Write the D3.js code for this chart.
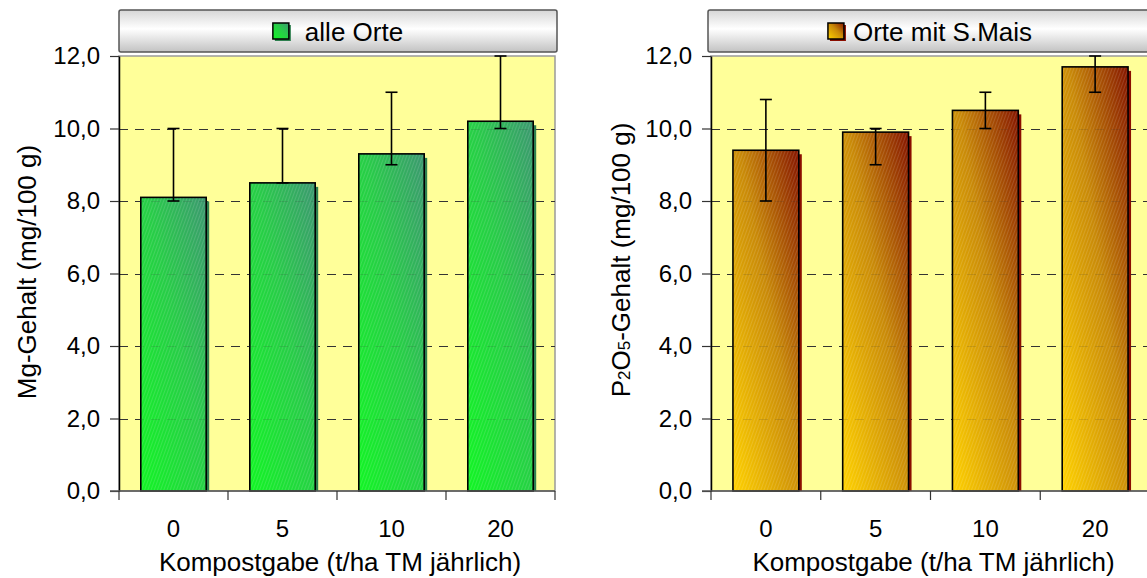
<!DOCTYPE html>
<html>
<head>
<meta charset="utf-8">
<script src="https://cdn.jsdelivr.net/npm/d3@7"></script>
<style>
  body { margin: 0; background: #fff; }
  svg { display: block; font-family: "Liberation Sans", Arial, sans-serif; }
</style>
</head>
<body>
<script>
const width = 1147;
const height = 578;

// data
const categories = ["0", "5", "10", "20"];
const yTicks = [0, 2, 4, 6, 8, 10, 12];

const mgValues = [8.1, 8.5, 9.3, 10.2];
const mgLow = [8.0, 8.5, 9.0, 10.0];
const mgHigh = [10.0, 10.0, 11.0, 12.0];

const pValues = [9.4, 9.9, 10.5, 11.7];
const pLow = [8.0, 9.0, 10.0, 11.0];
const pHigh = [10.8, 10.0, 11.0, 12.0];

const plotTop = 56, plotBottom = 491;

const svg = d3.select("body")
  .append("svg")
  .attr("width", width)
  .attr("height", height);

const defs = svg.append("defs");

// legend box gradient
const boxGrad = defs.append("linearGradient")
  .attr("id", "boxGrad").attr("x1", 0).attr("y1", 0).attr("x2", 0).attr("y2", 1);
boxGrad.append("stop").attr("offset", "0%").attr("stop-color", "#d6d6d6");
boxGrad.append("stop").attr("offset", "45%").attr("stop-color", "#ffffff");
boxGrad.append("stop").attr("offset", "100%").attr("stop-color", "#c2c2c2");

function barGradient(id, c0, c1, c2) {
  const g = defs.append("linearGradient")
    .attr("id", id).attr("x1", 0).attr("y1", 1).attr("x2", 1).attr("y2", 0);
  g.append("stop").attr("offset", "0%").attr("stop-color", c0);
  g.append("stop").attr("offset", "55%").attr("stop-color", c1);
  g.append("stop").attr("offset", "100%").attr("stop-color", c2);
}
barGradient("greenGrad", "#12f524", "#28cc48", "#3c9870");
barGradient("goldGrad", "#ffd200", "#c98a08", "#861600");

// fine diagonal hatching
const hatch = defs.append("pattern")
  .attr("id", "hatch")
  .attr("width", 3).attr("height", 3)
  .attr("patternUnits", "userSpaceOnUse")
  .attr("patternTransform", "rotate(20)");
hatch.append("rect").attr("width", 1).attr("height", 3)
  .attr("fill", "#ffffff").attr("opacity", 0.13);

const fmt = d => d3.format(".1f")(d).replace(".", ",");

function drawPanel(cfg) {
  const x = d3.scaleBand()
    .domain(categories)
    .range([cfg.left, cfg.right])
    .paddingInner(0.4)
    .paddingOuter(0.2);
  const xb = d3.scaleBand()
    .domain(categories)
    .range([cfg.left, cfg.right])
    .padding(0);
  const y = d3.scaleLinear().domain([0, 12]).range([plotBottom, plotTop]);

  const data = categories.map((c, i) => ({
    cat: c, value: cfg.values[i], low: cfg.low[i], high: cfg.high[i]
  }));

  const g = svg.append("g");

  // plot background
  g.append("rect")
    .attr("x", cfg.left).attr("y", plotTop)
    .attr("width", cfg.right - cfg.left).attr("height", plotBottom - plotTop)
    .attr("fill", "#ffff99")
    .attr("stroke", "#9a9a9a").attr("stroke-width", 1.5);

  // gridlines
  const grid = g.append("g");
  grid.selectAll("line")
    .data(yTicks.filter(d => d > 0 && d < 12))
    .join("line")
    .attr("x1", cfg.left).attr("x2", cfg.right)
    .attr("y1", d => Math.round(y(d)) + 0.5).attr("y2", d => Math.round(y(d)) + 0.5)
    .attr("stroke", "#333").attr("stroke-width", 1.2)
    .attr("stroke-dasharray", "9,7");

  // bar shadows
  g.selectAll("rect.shadow")
    .data(data)
    .join("rect")
    .attr("class", "shadow")
    .attr("x", d => x(d.cat) + 3)
    .attr("y", d => y(d.value) + 4)
    .attr("width", x.bandwidth())
    .attr("height", d => y(0) - y(d.value) - 4)
    .attr("fill", cfg.shadow);

  // bars
  g.selectAll("rect.bar")
    .data(data)
    .join("rect")
    .attr("class", "bar")
    .attr("x", d => x(d.cat))
    .attr("y", d => y(d.value))
    .attr("width", x.bandwidth())
    .attr("height", d => y(0) - y(d.value))
    .attr("fill", `url(#${cfg.grad})`);

  g.selectAll("rect.hatch")
    .data(data)
    .join("rect")
    .attr("class", "hatch")
    .attr("x", d => x(d.cat))
    .attr("y", d => y(d.value))
    .attr("width", x.bandwidth())
    .attr("height", d => y(0) - y(d.value))
    .attr("fill", "url(#hatch)")
    .attr("stroke", "#000").attr("stroke-width", 1.6);

  // faint grid seen through bars
  grid.clone(true).raise().attr("opacity", 0.15);

  // error bars
  const err = g.selectAll("g.err")
    .data(data)
    .join("g")
    .attr("class", "err")
    .attr("stroke", "#000").attr("stroke-width", 1.6);
  const cx = d => x(d.cat) + x.bandwidth() / 2;
  err.append("line")
    .attr("x1", cx).attr("x2", cx)
    .attr("y1", d => y(d.low)).attr("y2", d => y(d.high));
  err.append("line")
    .attr("x1", d => cx(d) - 6).attr("x2", d => cx(d) + 6)
    .attr("y1", d => y(d.high)).attr("y2", d => y(d.high));
  err.append("line")
    .attr("x1", d => cx(d) - 6).attr("x2", d => cx(d) + 6)
    .attr("y1", d => y(d.low)).attr("y2", d => y(d.low));

  // y axis
  const yAxis = d3.axisLeft(y)
    .tickValues(yTicks)
    .tickFormat(fmt)
    .tickSize(9)
    .tickSizeOuter(0)
    .tickPadding(10);
  const ya = g.append("g")
    .attr("transform", `translate(${cfg.left}, 0)`)
    .call(yAxis);
  ya.select(".domain").attr("stroke", "#000").attr("stroke-width", 1.5);
  ya.selectAll(".tick line").attr("stroke", "#333").attr("stroke-width", 1.2);
  ya.selectAll(".tick text")
    .attr("font-size", 24).attr("fill", "#000")
    .attr("font-family", "'Liberation Sans', Arial, sans-serif");

  // x axis line and boundary ticks
  g.append("line")
    .attr("x1", cfg.left - 9).attr("x2", cfg.right)
    .attr("y1", plotBottom).attr("y2", plotBottom)
    .attr("stroke", "#555").attr("stroke-width", 1.5);
  const bounds = categories.map(c => xb(c)).concat([cfg.right]);
  g.selectAll("line.xtick")
    .data(bounds)
    .join("line")
    .attr("class", "xtick")
    .attr("x1", d => d).attr("x2", d => d)
    .attr("y1", plotBottom).attr("y2", plotBottom + 9)
    .attr("stroke", "#333").attr("stroke-width", 1.2);

  const xa = g.append("g")
    .attr("transform", `translate(0, ${plotBottom})`)
    .call(d3.axisBottom(x).tickSize(0).tickPadding(29));
  xa.select(".domain").remove();
  xa.selectAll(".tick text")
    .attr("font-size", 24).attr("fill", "#000")
    .attr("font-family", "'Liberation Sans', Arial, sans-serif");

  // x title
  g.append("text")
    .attr("x", (cfg.left + cfg.right) / 2 + 3)
    .attr("y", 571)
    .attr("text-anchor", "middle")
    .attr("font-size", 26)
    .text("Kompostgabe (t/ha TM jährlich)");

  // y title
  const yt = g.append("text")
    .attr("transform", `translate(${cfg.yTitleX}, ${cfg.yTitleY}) rotate(-90)`)
    .attr("text-anchor", "middle")
    .attr("font-size", 26);
  cfg.yTitle.forEach(part => {
    yt.append("tspan")
      .attr("font-size", part.sub ? 17 : 26)
      .text(part.t);
  });

  // legend / title box
  g.append("rect")
    .attr("x", cfg.boxLeft).attr("y", 10)
    .attr("width", cfg.boxRight - cfg.boxLeft).attr("height", 42)
    .attr("rx", 2)
    .attr("fill", "url(#boxGrad)")
    .attr("stroke", "#555").attr("stroke-width", 1.5);

  const lg = g.append("g");
  const sw = lg.append("g");
  sw.append("rect").attr("x", 2).attr("y", 2).attr("width", 16).attr("height", 16)
    .attr("fill", cfg.shadow);
  sw.append("rect").attr("x", 0).attr("y", 0).attr("width", 16).attr("height", 16)
    .attr("fill", `url(#${cfg.grad})`)
    .attr("stroke", "#000").attr("stroke-width", 1.5);
  const lt = lg.append("text")
    .attr("x", 16 + cfg.legendGap)
    .attr("y", 18)
    .attr("font-size", 26)
    .text(cfg.title);
  const total = 16 + cfg.legendGap + lt.node().getComputedTextLength();
  const cx0 = (cfg.boxLeft + cfg.boxRight) / 2;
  lg.attr("transform", `translate(${cx0 - total / 2}, 23)`);
}

drawPanel({
  left: 119, right: 555,
  boxLeft: 119, boxRight: 557,
  values: mgValues, low: mgLow, high: mgHigh,
  grad: "greenGrad", shadow: "#2f7f4f",
  title: "alle Orte", legendGap: 16,
  yTitle: [{ t: "Mg-Gehalt (mg/100 g)" }],
  yTitleX: 36, yTitleY: 272
});

drawPanel({
  left: 711, right: 1150,
  boxLeft: 708, boxRight: 1152,
  values: pValues, low: pLow, high: pHigh,
  grad: "goldGrad", shadow: "#8a0e00",
  title: "Orte mit S.Mais", legendGap: 9,
  yTitle: [{ t: "P" }, { t: "2", sub: true }, { t: "O" }, { t: "5", sub: true }, { t: "-Gehalt (mg/100 g)" }],
  yTitleX: 630, yTitleY: 260
});
</script>
</body>
</html>
